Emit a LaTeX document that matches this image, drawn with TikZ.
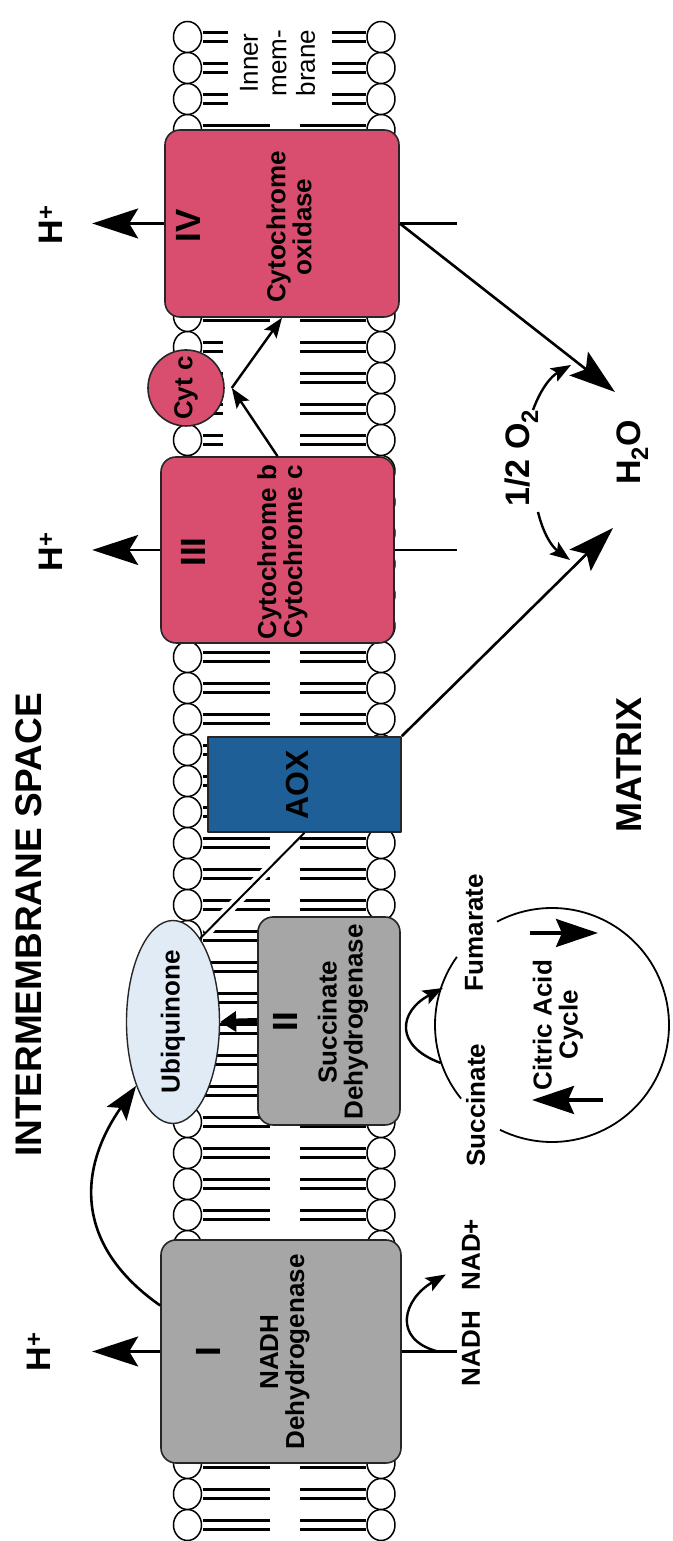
\documentclass[tikz,border=0pt]{standalone}
\usepackage{fontspec}
\setmainfont{Liberation Sans}
\usetikzlibrary{arrows.meta,shapes.geometric}

\definecolor{cplxpink}{RGB}{217,78,110}
\definecolor{cplxgray}{RGB}{166,166,166}
\definecolor{aoxblue}{RGB}{30,95,152}
\definecolor{ubqblue}{RGB}{225,235,246}
\newcommand\txtfont{\fontsize{26}{26}\selectfont\bfseries}
\newcommand\numfont{\fontsize{35}{35}\selectfont\bfseries}
\newcommand\bigfont{\fontsize{34}{34}\selectfont\bfseries}

\begin{document}
\begin{tikzpicture}[x=1pt,y=1pt,line join=round,
  cplx/.style={draw=black!85,line width=1.6pt,rounded corners=15pt,inner sep=0pt},
  lbl/.style={font=\txtfont,inner sep=0pt},
  numlbl/.style={font=\numfont,inner sep=0pt,anchor=base},
  biglbl/.style={font=\bigfont,inner sep=0pt,anchor=base},
  conn/.style={line width=2.6pt},
  bigarrow/.style={conn,-{Stealth[length=46pt,width=30pt,inset=9pt]}},
  midarrow/.style={conn,-{Stealth[length=34pt,width=24pt,inset=7pt]}},
  smallarrow/.style={line width=2.4pt,-{Stealth[length=20pt,width=15pt,inset=4pt]}},
  cycarrow/.style={line width=3.4pt,-{Stealth[length=42pt,width=28pt,inset=6pt]}},
  lipid/.style={draw,fill=white,line width=1.5pt},
  tailline/.style={line width=3.6pt}]
\begin{scope}[rotate=90,transform shape]
\useasboundingbox (0,0) rectangle (1541,672);

% bilayer: heads on both sides, two tails each
\foreach \k in {0,...,48}{
  \pgfmathsetmacro\u{16+31*\k}
  \def\ltail{402}\def\rtail{372}
  \ifnum\k>34 \ifnum\k<39 \def\ltail{449}\fi\fi
  \ifnum\k>45 \def\ltail{444}\def\rtail{340}\fi
  \draw[tailline] (\u-4.5,469) -- (\u-4.5,\ltail) (\u+4.5,469) -- (\u+4.5,\ltail)
    (\u-4.5,306) -- (\u-4.5,\rtail) (\u+4.5,306) -- (\u+4.5,\rtail);
  \draw[lipid] (\u,484.5) ellipse[x radius=15.5,y radius=14]
    (\u,291) ellipse[x radius=15.5,y radius=14];
}

% complexes
\node[cplx,fill=cplxgray,minimum width=223pt,minimum height=240pt] (I) at (189.5,391) {};
\node[cplx,fill=cplxgray,minimum width=208pt,minimum height=142pt] (II) at (520,343) {};
\node[cplx,fill=cplxpink,minimum width=186pt,minimum height=233pt] (III) at (991,394.5) {};
\node[cplx,fill=cplxpink,minimum width=187pt,minimum height=234pt] (IV) at (1317.5,390) {};
\node[draw=black!85,line width=1.6pt,fill=aoxblue,minimum width=95pt,minimum height=193pt] (AOX) at (756.5,367.5) {};
\node[draw=black!85,ellipse,fill=ubqblue,line width=1.4pt,minimum width=203pt,minimum height=93pt,inner sep=0pt,font=\txtfont] (ubq) at (519,499) {Ubiquinone};
\node[draw=black!85,circle,fill=cplxpink,line width=1.6pt,minimum size=76pt,inner sep=0pt,font=\txtfont] (cytc) at (1153,486) {Cyt c};

\node[numlbl] (nI) at (189,451) {I};
\node[numlbl] (nII) at (519,374) {II};
\node[numlbl] (nIII) at (989,466) {III};
\node[numlbl] (nIV) at (1315,471) {IV};
\node[lbl,align=center] (tI) at (189,387) {NADH\\Dehydrogenase};
\node[lbl,align=center] (tII) at (519,329) {Succinate\\Dehydrogenase};
\node[lbl,align=center] (tIII) at (989,389.5) {Cytochrome b\\Cytochrome c};
\node[lbl,align=center] (tIV) at (1314,383) {Cytochrome\\oxidase};
\node[lbl,font=\fontsize{32}{32}\selectfont\bfseries] (tAOX) at (756,375) {AOX};

% labels
\node[biglbl] (hI) at (189,621) {H\textsuperscript{+}};
\node[biglbl] (hIII) at (989,609) {H\textsuperscript{+}};
\node[biglbl] (hIV) at (1316,609) {H\textsuperscript{+}};
\node[biglbl] (water) at (1088.5,32) {H\textsubscript{2}O};
\node[biglbl] (oxy) at (1083,142) {1/2 O\textsubscript{2}};
\node[biglbl,font=\fontsize{36}{36}\selectfont\bfseries] (matrix) at (776,31) {MATRIX};
\node[biglbl,font=\fontsize{37}{37}\selectfont\bfseries] (ims) at (616,630) {INTERMEMBRANE SPACE};
\node[lbl,anchor=base] (nadh) at (238.5,192) {NADH\hspace{0.8em}NAD+};
\node[lbl,anchor=base] (succ) at (436,187) {Succinate};
\node[lbl,anchor=base] (fum) at (608.5,189) {Fumarate};
\node[lbl,align=center] (tca) at (516,114) {Citric Acid\\Cycle};
\node[inner sep=0pt,align=center,font=\fontsize{26}{28.5}\selectfont] (inner) at (1478,394.5) {Inner\\mem-\\brane};

% proton pumping and matrix side
\coordinate (pI) at ([yshift=68]I.north);
\coordinate (pIII) at ([yshift=68]III.north);
\coordinate (pIV) at ([yshift=72]IV.north);
\draw[bigarrow] (I.north) -- (pI);
\draw[bigarrow] (III.north) -- (pIII);
\draw[bigarrow] (IV.north) -- (pIV);
\coordinate (mI) at ([yshift=-55]I.south);
\coordinate (mIII) at ([yshift=-62]III.south);
\coordinate (mIV) at ([yshift=-57]IV.south);
\draw[conn] (I.south) -- (mI) (III.south) -- (mIII) (IV.south) -- (mIV);

% electron path
\coordinate (sI) at ([xshift=46]I.north);
\draw[midarrow] (sI) to[out=55,in=145,looseness=1.2] (ubq.150);
\draw[line width=6pt,-{Triangle[length=16pt,width=20pt]}] (II.north) -- (ubq.south);
\draw[line width=2pt,preaction={draw=white,line width=10pt,shorten <=8pt,shorten >=8pt}] (ubq.-18) -- (AOX.west);
\coordinate (cytb) at ([yshift=-7]cytc.south);
\draw[smallarrow] (III.east) -- (cytb);
\draw[smallarrow] (cytb) -- (IV.west);
\coordinate (wIV) at (1149,57);
\coordinate (wAOX) at (1013,59);
\draw[bigarrow] (IV.south) -- (wIV);
\draw[bigarrow] (AOX.south east) -- (wAOX);
\coordinate (o2a) at (1131,139);
\coordinate (o2b) at (1176,101);
\coordinate (o2c) at (1029,134);
\coordinate (o2d) at (981,102);
\draw[smallarrow] (o2a) to[bend left=20] (o2b);
\draw[smallarrow] (o2c) to[bend right=20] (o2d);

% NADH and succinate turnover
\coordinate (nS) at ([yshift=-36]I.south);
\coordinate (nE) at ([xshift=77,yshift=-44]I.south);
\draw[smallarrow] (nS) to[out=75,in=120,looseness=1.6] (nE);
\coordinate (sS) at ([xshift=-42,yshift=-40]II.south);
\coordinate (sE) at ([xshift=33,yshift=-42]II.south);
\draw[smallarrow] (sS) to[out=70,in=118,looseness=1.7] (sE);

% citric acid cycle
\coordinate (tcac) at (516,120);
\draw[line width=1.8pt] (tcac) ++(153.6:117) arc[start angle=153.6,end angle=388,radius=117];
\draw[line width=1.8pt] (tcac) ++(54.4:117) arc[start angle=54.4,end angle=129,radius=117];
\coordinate (ca1) at (608,142);
\coordinate (ca2) at (608,74);
\coordinate (ca3) at (441,69);
\coordinate (ca4) at (441,140);
\draw[cycarrow] (ca1) -- (ca2);
\draw[cycarrow] (ca3) -- (ca4);
\end{scope}
\end{tikzpicture}
\end{document}
